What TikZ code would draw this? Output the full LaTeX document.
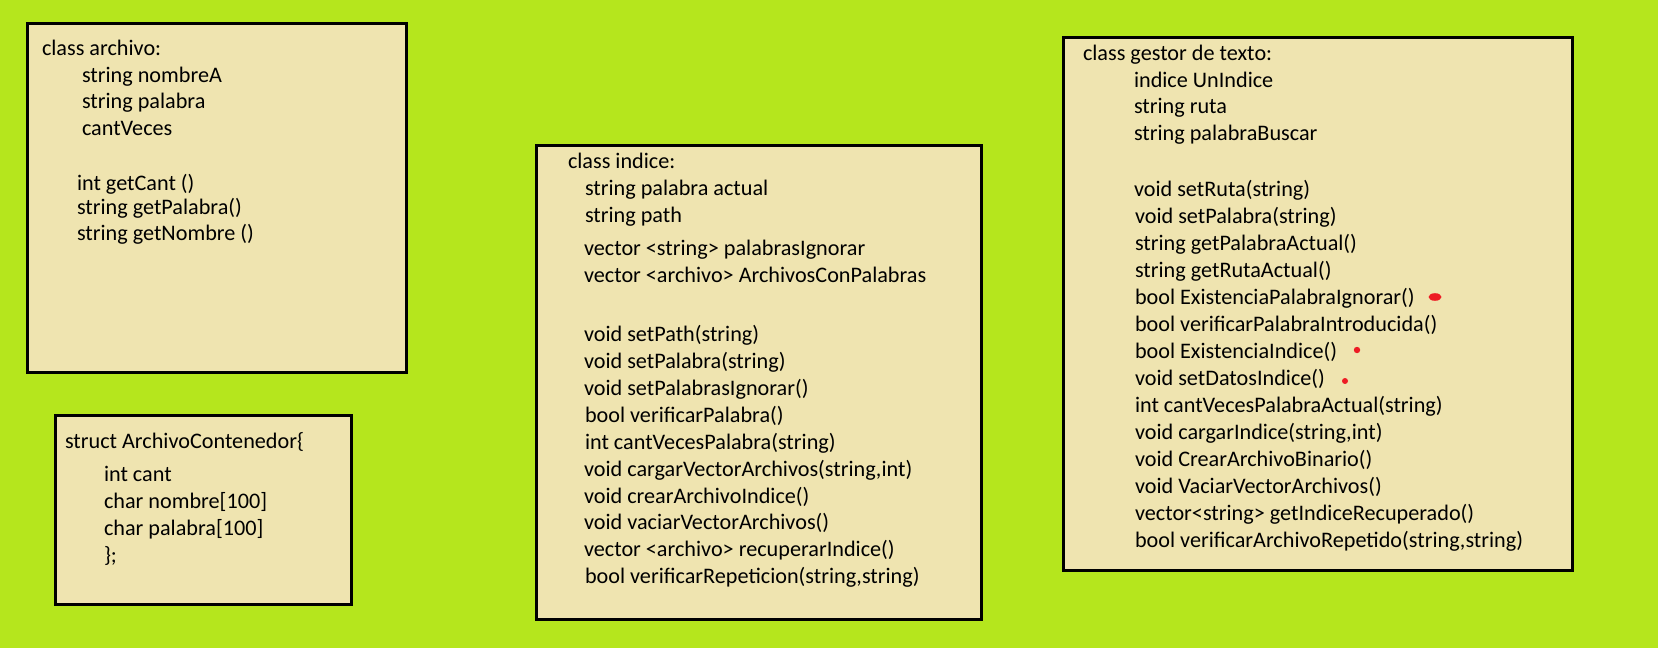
\documentclass[tikz,border=0pt]{standalone}
\usepackage{fontspec}
\setmainfont{Carlito}
\definecolor{bgc}{RGB}{181,230,29}
\definecolor{boxc}{RGB}{239,228,176}
\definecolor{dotc}{RGB}{237,28,36}
\tikzset{
  box/.style={draw=black, line width=3pt, fill=boxc, rectangle, inner sep=0pt, outer sep=0pt},
  txt/.style={anchor=base west, inner sep=0pt, outer sep=0pt, text=black},
  big/.style={txt, font=\fontsize{22.2}{23}\selectfont},
  reddot/.style={fill=dotc, draw=none}
}
\newcommand\tline[4]{\node[#1] (#2) at (#3) {#4};}
\begin{document}
\begin{tikzpicture}[x=1pt,y=-1pt]
\fill[bgc] (0,0) rectangle (1658,648);
\useasboundingbox (0,0) rectangle (1658,648);
% boxes
\node[box, minimum width=379pt, minimum height=349pt] (archivo) at (217,198) {};
\node[box, minimum width=295.5pt, minimum height=189.5pt] (struct) at (203.25,509.75) {};
\node[box, minimum width=445pt, minimum height=474pt] (indice) at (759,382) {};
\node[box, minimum width=509pt, minimum height=533pt] (gestor) at (1318,303.5) {};
% class archivo
\tline{big}{a0}{42,55}{class archivo:}
\tline{big}{a1}{82,82}{string nombreA}
\tline{big}{a2}{82,108}{string palabra}
\tline{big}{a3}{82,135}{cantVeces}
\tline{big}{a4}{77,190}{int getCant ()}
\tline{big}{a5}{77,214}{string getPalabra()}
\tline{big}{a6}{77,240}{string getNombre ()}
% struct
\tline{big}{s0}{65,448}{struct ArchivoContenedor\{}
\tline{big}{s1}{104,481}{int cant}
\tline{big}{s2}{104,508}{char nombre[100]}
\tline{big}{s3}{104,535}{char palabra[100]}
\tline{big}{s4}{104,562}{\};}
% class indice
\tline{big}{i0}{568,168}{class indice:}
\tline{big}{i1}{585,195}{string palabra actual}
\tline{big}{i2}{585,222}{string path}
\tline{big}{i3}{584,255}{vector <string> palabrasIgnorar}
\tline{big}{i4}{584,282}{vector <archivo> ArchivosConPalabras}
\tline{big}{i5}{584,341}{void setPath(string)}
\tline{big}{i6}{584,368}{void setPalabra(string)}
\tline{big}{i7}{584,395}{void setPalabrasIgnorar()}
\tline{big}{i8}{585,422}{bool verificarPalabra()}
\tline{big}{i9}{585,449}{int cantVecesPalabra(string)}
\tline{big}{i10}{584,476}{void cargarVectorArchivos(string,int)}
\tline{big}{i11}{584,503}{void crearArchivoIndice()}
\tline{big}{i12}{584,529}{void vaciarVectorArchivos()}
\tline{big}{i13}{584,556}{vector <archivo> recuperarIndice()}
\tline{big}{i14}{585,583}{bool verificarRepeticion(string,string)}
% class gestor de texto
\tline{big}{g0}{1083,60}{class gestor de texto:}
\tline{big}{g1}{1134,87}{indice UnIndice}
\tline{big}{g2}{1134,113}{string ruta}
\tline{big}{g3}{1134,140}{string palabraBuscar}
\tline{big}{g4}{1134,196}{void setRuta(string)}
\tline{big}{g5}{1135,223}{void setPalabra(string)}
\tline{big}{g6}{1135,250}{string getPalabraActual()}
\tline{big}{g7}{1135,277}{string getRutaActual()}
\tline{big}{g8}{1135,304}{bool ExistenciaPalabraIgnorar()}
\tline{big}{g9}{1135,331}{bool verificarPalabraIntroducida()}
\tline{big}{g10}{1135,358}{bool ExistenciaIndice()}
\tline{big}{g11}{1135,385}{void setDatosIndice()}
\tline{big}{g12}{1135,412}{int cantVecesPalabraActual(string)}
\tline{big}{g13}{1135,439}{void cargarIndice(string,int)}
\tline{big}{g14}{1135,466}{void CrearArchivoBinario()}
\tline{big}{g15}{1135,493}{void VaciarVectorArchivos()}
\tline{big}{g16}{1135,520}{vector<string> getIndiceRecuperado()}
\tline{big}{g17}{1135,547}{bool verificarArchivoRepetido(string,string)}
% red marks
\fill[reddot] (1435,297) ellipse (6.5 and 3.8);
\fill[reddot] (1357,350) circle (3.2);
\fill[reddot] (1345,381) circle (3);
\end{tikzpicture}
\end{document}
